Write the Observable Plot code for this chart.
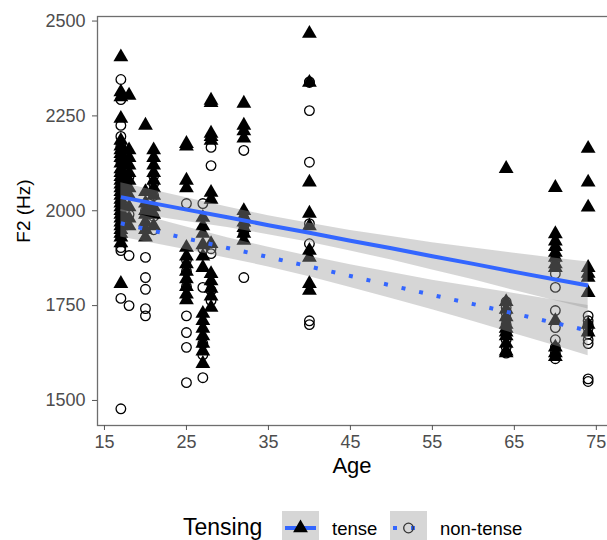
<!DOCTYPE html>
<html>
<head>
<meta charset="utf-8">
<script src="https://cdn.jsdelivr.net/npm/d3@7"></script>
<script src="https://cdn.jsdelivr.net/npm/@observablehq/plot@0.6"></script>
<style>
  html, body { margin: 0; padding: 0; background: white; overflow: hidden; }
  #wrap { width: 607px; height: 540px; position: relative; }
  #wrap svg { display: block; }
</style>
</head>
<body>
<div id="wrap"></div>
<script>
// ---- data ----
const ages = [17, 18, 20, 21, 25, 27, 28, 32, 40, 64, 70, 74];

const tenseF2 = [
  [2405, 2313, 2300, 2243, 2185, 2170, 2160, 2150, 2140, 2125, 2110, 2100, 2090, 2080, 2070, 2060, 2050, 2040, 2030, 2020, 2010, 2000, 1990, 1980, 1970, 1960, 1950, 1940, 1930, 1915, 1808],
  [2304, 2160, 2140, 2120, 2100, 2080, 2060, 2040, 2010, 1980, 1960],
  [2225, 2050, 2020, 2000, 1990, 1970, 1950, 1930],
  [2160, 2140, 2120, 2100, 2080, 2060, 2040, 2010, 1990, 1960],
  [2177, 2170, 2080, 2060, 1903, 1880, 1860, 1840, 1820, 1800, 1780, 1765],
  [1982, 1960, 1940, 1910, 1880, 1850, 1729, 1710, 1690, 1670, 1650, 1630, 1597],
  [2291, 2285, 2204, 2195, 2185, 2048, 2030, 1913, 1834, 1815, 1795, 1775, 1745],
  [2283, 2225, 2210, 2191, 2000, 1985, 1970, 1955, 1940, 1922],
  [2467, 2338, 2075, 1993, 1960, 1895, 1877, 1808, 1790],
  [2111, 1760, 1740, 1720, 1700, 1690, 1680, 1670, 1650, 1630, 1625],
  [2061, 1939, 1920, 1905, 1890, 1877, 1860, 1850, 1710, 1640, 1625, 1615],
  [2164, 2075, 2009, 1850, 1835, 1824, 1784, 1700, 1680]
];

const nonTenseF2 = [
  [2346, 2293, 2225, 2196, 2170, 2130, 2100, 2060, 2020, 1990, 1960, 1930, 1903, 1895, 1769, 1478],
  [2090, 1990, 1882, 1750],
  [2000, 1960, 1877, 1824, 1793, 1742, 1723],
  [2092, 2072, 2040, 1985, 1950],
  [2019, 1870, 1840, 1800, 1723, 1679, 1640, 1547],
  [2019, 1900, 1798, 1650, 1620, 1560],
  [2167, 2119, 1900, 1887, 1790, 1763],
  [2159, 1980, 1960, 1940, 1824],
  [2340, 2338, 2264, 2128, 1966, 1913, 1710, 1700],
  [1760, 1745, 1730, 1715, 1700, 1690, 1675, 1660, 1640, 1625],
  [1870, 1834, 1798, 1737, 1692, 1660, 1640, 1625, 1610],
  [1723, 1710, 1700, 1690, 1675, 1660, 1650, 1557, 1550]
];

// fitted lines and confidence bands
const fitAges      = [17, 25, 30, 35, 40, 45, 50, 55, 60, 65, 70, 74];
const tenseFit     = [2036, 2003, 1983, 1962, 1942, 1921, 1901, 1880, 1860, 1839, 1819, 1803];
const tenseHi      = [2074, 2034, 2010, 1987, 1967, 1948, 1932, 1916, 1902, 1888, 1875, 1865];
const tenseLo      = [1998, 1972, 1956, 1937, 1917, 1894, 1870, 1844, 1818, 1790, 1763, 1741];
const nonTenseFit  = [1967, 1927, 1902, 1878, 1853, 1828, 1803, 1778, 1754, 1729, 1704, 1684];
const nonTenseHi   = [2003, 1957, 1929, 1904, 1880, 1858, 1837, 1817, 1800, 1782, 1764, 1750];
const nonTenseLo   = [1931, 1897, 1875, 1852, 1826, 1798, 1769, 1739, 1708, 1676, 1644, 1618];

const xTicks = [15, 25, 35, 45, 55, 65, 75];
const yTicks = [1500, 1750, 2000, 2250, 2500];
const legendTitle = "Tensing";
const groupLabels = ["tense", "non-tense"];
const xTitle = "Age";
const yTitle = "F2 (Hz)";

// ---- tables ----
const tensePts = ages.flatMap((a, i) => tenseF2[i].map(v => ({age: a, f2: v})));
const nonPts = ages.flatMap((a, i) => nonTenseF2[i].map(v => ({age: a, f2: v})));
const tenseBand = fitAges.map((a, i) => ({age: a, fit: tenseFit[i], lo: tenseLo[i], hi: tenseHi[i]}));
const nonBand = fitAges.map((a, i) => ({age: a, fit: nonTenseFit[i], lo: nonTenseLo[i], hi: nonTenseHi[i]}));

const BLUE = "#3366FF";
const FONT = "'Liberation Sans', Arial, Helvetica, sans-serif";

const chart = Plot.plot({
  width: 607,
  height: 490,
  marginLeft: 97,
  marginRight: -4,
  marginTop: 16,
  marginBottom: 65,
  style: {fontFamily: FONT, fontSize: "18px", background: "white", color: "#4d4d4d"},
  x: {domain: [14.15, 76.85], label: null},
  y: {domain: [1434, 2512], label: null},
  marks: [
    Plot.dot(tensePts, {x: "age", y: "f2", symbol: "triangle", fill: "black", r: 5.5}),
    Plot.dot(nonPts, {x: "age", y: "f2", symbol: "circle", fill: "none", stroke: "black", strokeWidth: 1.3, r: 4.8}),
    Plot.areaY(tenseBand, {x: "age", y1: "lo", y2: "hi", fill: "#999999", fillOpacity: 0.4}),
    Plot.areaY(nonBand, {x: "age", y1: "lo", y2: "hi", fill: "#999999", fillOpacity: 0.4}),
    Plot.line(tenseBand, {x: "age", y: "fit", stroke: BLUE, strokeWidth: 4, strokeLinecap: "butt"}),
    Plot.line(nonBand, {x: "age", y: "fit", stroke: BLUE, strokeWidth: 4, strokeLinecap: "butt", strokeDasharray: "4,14"}),
    Plot.frame({stroke: "#6e6e6e", strokeWidth: 1.3}),
    Plot.axisX({ticks: xTicks, tickFormat: d => String(d), tickSize: 5, tickPadding: 5, stroke: "#555", fill: "#4d4d4d", fontSize: 18, label: null}),
    Plot.axisY({ticks: yTicks, tickFormat: d => String(d), tickSize: 5, tickPadding: 7, stroke: "#555", fill: "#4d4d4d", fontSize: 18, label: null})
  ]
});

const svg = d3.select(chart);
svg.append("text")
  .attr("x", 352).attr("y", 473)
  .attr("text-anchor", "middle")
  .attr("fill", "black")
  .style("font-family", FONT).style("font-size", "22px")
  .text(xTitle);
svg.append("text")
  .attr("transform", "translate(30,211) rotate(-90)")
  .attr("text-anchor", "middle")
  .attr("fill", "black")
  .style("font-family", FONT).style("font-size", "19px")
  .text(yTitle);

document.getElementById("wrap").appendChild(chart);

// ---- legend (below the plot) ----
const leg = d3.select("#wrap").append("svg")
  .attr("width", 607).attr("height", 50)
  .style("display", "block");
leg.append("text")
  .attr("x", 183).attr("y", 45)
  .attr("fill", "black")
  .style("font-family", FONT).style("font-size", "23px")
  .text(legendTitle);

const keys = [{x0: 282, lx: 332, label: groupLabels[0], dash: null, sym: "tri"},
              {x0: 390, lx: 440, label: groupLabels[1], dash: "4,14", sym: "circ"}];
keys.forEach(k => {
  const g = leg.append("g");
  g.append("rect").attr("x", k.x0).attr("y", 21).attr("width", 37).attr("height", 37).attr("fill", "#d6d6d6");
  const ln = g.append("line").attr("x1", k.x0 + 3).attr("x2", k.x0 + 34).attr("y1", 38).attr("y2", 38)
    .attr("stroke", BLUE).attr("stroke-width", 4);
  if (k.dash) ln.attr("stroke-dasharray", k.dash);
  if (k.sym === "tri") {
    g.append("path").attr("d", d3.symbol(d3.symbolTriangle, 95)())
      .attr("transform", `translate(${k.x0 + 18.5},38)`).attr("fill", "black");
  } else {
    g.append("circle").attr("cx", k.x0 + 18.5).attr("cy", 38).attr("r", 4.8)
      .attr("fill", "none").attr("stroke", "#333").attr("stroke-width", 1.3);
  }
  leg.append("text").attr("x", k.lx).attr("y", 45).attr("fill", "black")
    .style("font-family", FONT).style("font-size", "18.5px").text(k.label);
});
</script>
</body>
</html>
